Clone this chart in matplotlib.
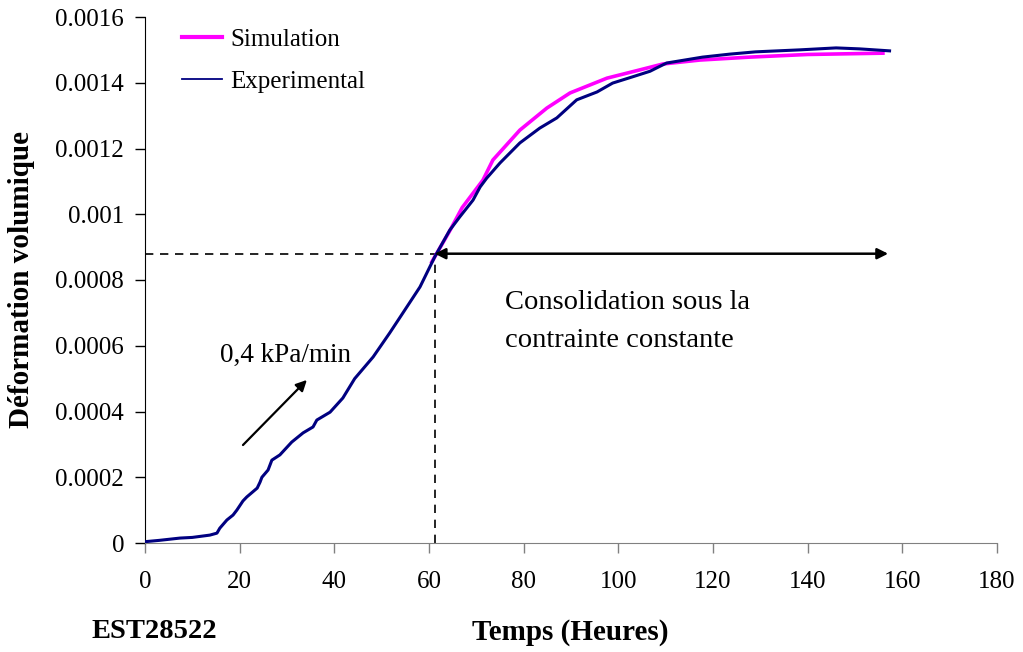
import matplotlib
matplotlib.use("Agg")
import matplotlib.pyplot as plt
from matplotlib.ticker import FixedLocator

plt.rcParams['font.family'] = ['Liberation Serif', 'DejaVu Serif']

# Measured volumetric strain (hours, strain)
time_exp = [0, 3, 7.4, 10, 13.7, 15.2, 15.8, 17.3, 18.6, 19.4, 20.7, 21.5, 23.7,
            24.3, 24.7, 26.0, 26.8, 28.5, 31.0, 33.4, 35.5, 36.3, 39.1, 41.8,
            44.3, 48.2, 51.7, 53.9, 58.1, 61.2, 64.4, 66.5, 69.3, 70.8, 72.2,
            75.0, 79.2, 83.4, 87.0, 91.2, 95.5, 98.8, 103.0, 106.7, 108.5,
            110.2, 117.8, 123.5, 129.0, 138.3, 146.0, 151.0, 157.3]
strain_exp = [0.000004, 0.000008, 0.000015, 0.000017, 0.000024, 0.000030,
              0.000045, 0.000070, 0.000085, 0.000100, 0.000128, 0.000140,
              0.000167, 0.000185, 0.000200, 0.000222, 0.000252, 0.000268,
              0.000307, 0.000335, 0.000353, 0.000374, 0.000398, 0.000441,
              0.000500, 0.000566, 0.000639, 0.000687, 0.000779, 0.000870,
              0.000952, 0.000992, 0.001043, 0.001083, 0.001110, 0.001156,
              0.001217, 0.001262, 0.001293, 0.001348, 0.001372, 0.001399,
              0.001418, 0.001435, 0.001448, 0.001460, 0.001478, 0.001487,
              0.001494, 0.001500, 0.001506, 0.001503, 0.001497]

# Model prediction during consolidation
time_sim = [60.6, 64.4, 67.0, 71.4, 73.5, 79.2, 84.9, 89.8, 97.6, 104.5,
            109.4, 117.2, 127.8, 140.0, 155.9]
strain_sim = [0.000855, 0.000950, 0.001020, 0.001104, 0.001165, 0.001256,
              0.001323, 0.001369, 0.001414, 0.001439, 0.001457, 0.001469,
              0.001478, 0.001486, 0.001490]

x_ticks = [0, 20, 40, 60, 80, 100, 120, 140, 160, 180]
y_ticks = [0, 0.0002, 0.0004, 0.0006, 0.0008, 0.001, 0.0012, 0.0014, 0.0016]
y_tick_labels = ['0', '0.0002', '0.0004', '0.0006', '0.0008', '0.001',
                 '0.0012', '0.0014', '0.0016']

consol_start = 61.2
consol_end = 157.0
consol_strain = 0.00088
rate_arrow_start = (20.7, 0.000298)
rate_arrow_end = (34.2, 0.000496)

fig = plt.figure(figsize=(10.23, 6.52), dpi=100)
ax = fig.add_axes([145 / 1023, 1 - 543 / 652, (997 - 145) / 1023, (543 - 17) / 652])

ax.plot(time_sim, strain_sim, color='#FF00FF', lw=2.6, label='Simulation', zorder=3)
ax.plot(time_exp, strain_exp, color='#000080', lw=2.2, label='Experimental', zorder=4)

ax.set_xlim(0, 180)
ax.set_ylim(0, 0.0016)
ax.xaxis.set_major_locator(FixedLocator(x_ticks))
ax.set_xticklabels([str(v) for v in x_ticks])
ax.yaxis.set_major_locator(FixedLocator(y_ticks))
ax.set_yticklabels(y_tick_labels)
ax.tick_params(axis='both', direction='out', length=7, width=1, labelsize=18)
ax.tick_params(axis='y', pad=8)
ax.tick_params(axis='x', pad=13, color='#808080')
for side in ('top', 'right'):
    ax.spines[side].set_visible(False)
ax.spines['bottom'].set_color('#808080')
ax.spines['left'].set_color('black')

# Consolidation guide lines
ax.plot([0, consol_start], [consol_strain, consol_strain], color='black',
        lw=1.2, ls=(0, (5, 4)), zorder=2)
ax.plot([consol_start, consol_start], [0, consol_strain], color='black',
        lw=1.2, ls=(0, (5, 4)), zorder=2)
ax.annotate('', xy=(consol_end, consol_strain), xytext=(consol_start, consol_strain),
            arrowprops=dict(arrowstyle='<|-|>', color='black', lw=1.8,
                            mutation_scale=16, shrinkA=0, shrinkB=0), zorder=5)
ax.text(76, 0.000733, 'Consolidation sous la', fontsize=20.5, va='center', ha='left')
ax.text(76, 0.000617, 'contrainte constante', fontsize=20.5, va='center', ha='left')

# Loading rate arrow
ax.annotate('', xy=rate_arrow_end, xytext=rate_arrow_start,
            arrowprops=dict(arrowstyle='-|>', color='black', lw=1.6,
                            mutation_scale=16, shrinkA=0, shrinkB=0))
ax.text(15.8, 0.000572, '0,4 kPa/min', fontsize=19.5, va='center', ha='left')

leg = ax.legend(loc='upper left', bbox_to_anchor=(182 / 1023, 1 - 28 / 652),
                bbox_transform=fig.transFigure, frameon=False, fontsize=18,
                handlelength=1.6, handletextpad=0.32, borderpad=0,
                borderaxespad=0, labelspacing=0.8)
leg.get_lines()[0].set_linewidth(3.0)
leg.get_lines()[1].set_linewidth(1.3)

fig.text(22 / 1023, 1 - 280 / 652, 'Déformation volumique', rotation=90,
         fontsize=21, fontweight='bold', ha='center', va='center')
fig.text(570 / 1023, 1 - 633 / 652, 'Temps (Heures)', fontsize=21,
         fontweight='bold', ha='center', va='center')
fig.text(92 / 1023, 1 - 632 / 652, 'EST28522', fontsize=20.5,
         fontweight='bold', ha='left', va='center')

fig.savefig('out.png', dpi=100)
